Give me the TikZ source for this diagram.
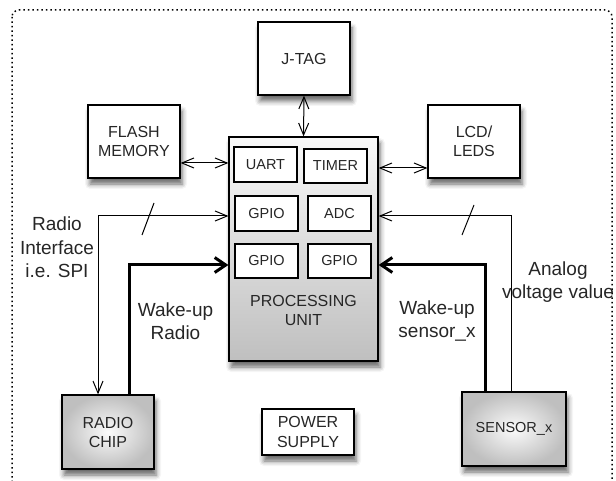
\documentclass[tikz,border=0pt]{standalone}
\usepackage{fontspec}
\setmainfont{Liberation Sans}
\usetikzlibrary{arrows.meta,shadows.blur}
\begin{document}
\begin{tikzpicture}[x=1pt,y=-1pt,
  shad/.style={blur shadow={shadow xshift=2pt, shadow yshift=-6pt, shadow blur radius=5pt, shadow opacity=60}},
  box/.style={draw=black, line width=1.3pt, fill=white, minimum width=92pt, minimum height=73pt,
    inner sep=0pt, align=center, font=\fontsize{16}{19}\selectfont, text=black!85, shad},
  chip/.style={box, inner color=gray!3, outer color=gray!50},
  sub/.style={draw=black, line width=1.2pt, fill=white, minimum width=63pt, minimum height=35pt,
    inner sep=0pt, font=\fontsize{14.5}{17}\selectfont, text=black!85},
  lbl/.style={align=center, font=\fontsize{19}{23.5}\selectfont, text=black!85, inner sep=0pt},
  thinln/.style={line width=1pt},
  thickln/.style={line width=3pt},
  tin/.style={thinln, -{Straight Barb[length=12pt,width=10pt]}},
  tboth/.style={thinln, {Straight Barb[length=12pt,width=10pt]}-{Straight Barb[length=12pt,width=10pt]}},
  tthick/.style={thickln, -{Straight Barb[length=11pt,width=15pt]}}
]
\useasboundingbox (0,0) rectangle (616,481);
\begin{scope}
\clip (0,0) rectangle (616,481);
\draw[line width=1.5pt, dash pattern=on 1.5pt off 3pt, rounded corners=7pt] (12,10) rectangle (612,500);
\end{scope}

% outer blocks
\node[box] (jtag) at (304,58.5) {J-TAG};
\node[box] (flash) at (134,141.5) {FLASH\\MEMORY};
\node[box] (lcd) at (474,141.5) {LCD/\\LEDS};
\node[chip] (radio) at (108,432) [minimum height=74pt] {RADIO\\CHIP};
\node[chip, minimum width=104pt, minimum height=74pt, font=\fontsize{14.5}{17}\selectfont] (sensor) at (514,429) {SENSOR\_x};
\node[box, minimum height=46pt, font=\fontsize{16}{20}\selectfont] (power) at (308,432) {POWER\\SUPPLY};

% processing unit
\node[draw=black, line width=1.3pt, top color=gray!5, bottom color=gray!50, minimum width=149pt, minimum height=224pt, shad] (pu) at (303.5,249) {};
\node[sub] (uart) at (265.5,164.5) {UART};
\node[sub, minimum height=34pt] (timer) at (335.5,166) {TIMER};
\node[sub] (gpioa) at (266.5,213.5) {GPIO};
\node[sub] (adc) at (339.5,213.5) {ADC};
\node[sub, minimum height=34pt] (gpiob) at (266.5,261) {GPIO};
\node[sub, minimum height=34pt] (gpioc) at (339.5,261) {GPIO};
\node[align=center, font=\fontsize{16}{19}\selectfont, text=black!85, inner sep=0pt] (putext) at (303.5,310) {PROCESSING\\UNIT};

% coordinates
\coordinate (yflash) at (0,163);
\coordinate (ylcd) at (0,168);
\coordinate (yspi) at (0,216);
\coordinate (ywake) at (0,265);
\coordinate (xspi) at (98,0);
\coordinate (xwr) at (129,0);
\coordinate (xws) at (485,0);
\coordinate (xan) at (511,0);

% connectors
\draw[tboth] (jtag.south) -- (pu.north);
\draw[tboth] (flash.east |- yflash) -- (pu.west |- yflash);
\draw[tboth] (pu.east |- ylcd) -- (lcd.west |- ylcd);
\draw[tboth] (xspi |- radio.north) |- (pu.west |- yspi);
\draw[tthick] (xwr |- radio.north) |- (pu.west |- ywake);
\draw[tin] (xan |- sensor.north) |- (pu.east |- yspi);
\draw[tthick] (xws |- sensor.north) |- (pu.east |- ywake);

% bus slashes
\coordinate (sa1) at (142,235); \coordinate (sa2) at (154,203);
\coordinate (sb1) at (462,235); \coordinate (sb2) at (474,205);
\draw[thinln] (sa1) -- (sa2);
\draw[thinln] (sb1) -- (sb2);

% labels
\node[lbl] (lspi) at (57,247.5) {Radio\\Interface\\i.e. SPI};
\node[lbl] (lwr) at (175.5,321) {Wake-up\\Radio};
\node[lbl] (lws) at (437,321) {Wake-up\\sensor\_x};
\node[lbl] (lan) at (558,282) {Analog\\voltage value};
\end{tikzpicture}
\end{document}
